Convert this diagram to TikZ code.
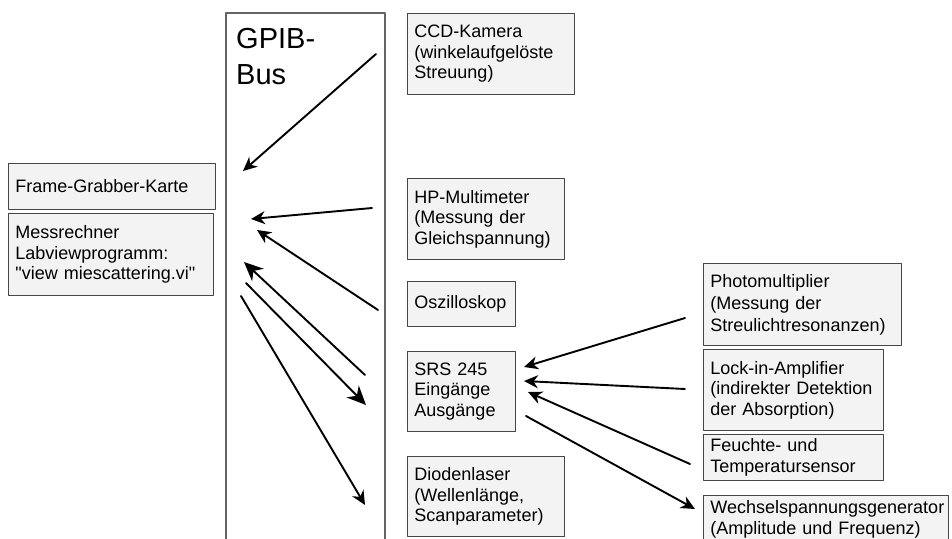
\documentclass[tikz,border=0pt]{standalone}
\usepackage{fontspec}
\setmainfont{Liberation Sans}
\usetikzlibrary{arrows.meta}
\definecolor{boxfill}{RGB}{243,243,243}
\definecolor{boxline}{RGB}{70,70,70}
\definecolor{busline}{RGB}{100,100,100}

\tikzset{
  geraet/.style 2 args={draw=boxline, line width=0.9pt, fill=boxfill, anchor=north west,
    align=left, inner xsep=7pt, inner ysep=0pt, text width=#1, minimum height=#2,
    font=\fontsize{18}{20.5}\selectfont},
  pfeil/.style={->, line width=1.9pt},
  grosspfeil/.style={-{Stealth[length=19pt,width=17pt,inset=6pt]}, line width=1.9pt}
}

\begin{document}
\begin{tikzpicture}[line cap=round,line join=round,>={Stealth[length=14pt,width=13pt,inset=4.5pt]},x=1pt,y=-1pt]
\useasboundingbox (0,0) rectangle (952,538);
% GPIB-Bus
\draw[busline, line width=1.3pt] (226,560) |- (385,13) -- (385,560);
\node [anchor=north west, align=left, inner sep=0pt, font=\fontsize{29}{36}\selectfont] (bus) at (236,28) {GPIB-\\Bus};

% Rechner links
\node [geraet={193pt}{46pt}] (fgk) at (8,163) {Frame-Grabber-Karte};
\node [geraet={191pt}{82pt}] (rechner) at (8,213) {Messrechner\\Labviewprogramm:\\\textquotedbl view miescattering.vi\textquotedbl};

% Geraete am Bus
\node [geraet={153pt}{81pt}] (ccd) at (407,13) {CCD-Kamera\\(winkelaufgelöste\\Streuung)};
\node [geraet={143pt}{81pt}] (hpmm) at (407,178) {HP-Multimeter\\(Messung der\\Gleichspannung)};
\node [geraet={94pt}{45pt}] (oszi) at (407,281) {Oszilloskop};
\node [geraet={94pt}{80pt}] (srs) at (407,351) {SRS 245\\Eingänge\\Ausgänge};
\node [geraet={143pt}{80pt}] (laser) at (407,456) {Diodenlaser\\(Wellenlänge,\\Scanparameter)};

% Geraete am SRS 245
\node [geraet={184pt}{82pt}, font=\fontsize{18}{22}\selectfont] (pmt) at (703,263) {Photomultiplier\\(Messung der\\Streulichtresonanzen)};
\node [geraet={166pt}{81pt}] (lockin) at (703,349) {Lock-in-Amplifier\\(indirekter Detektion\\der Absorption)};
\node [geraet={166pt}{46pt}] (sensor) at (703,434) {Feuchte- und\\Temperatursensor};
\node [geraet={231pt}{48pt}] (generator) at (703,495) {Wechselspannungsgenerator\\(Amplitude und Frequenz)};

% Pfeilenden
\coordinate (ccd-s) at (376,54);   \coordinate (ccd-e) at (243,171);
\coordinate (hpmm-s) at (372,208); \coordinate (hpmm-e) at (251,219);
\coordinate (oszi-s) at (378,310); \coordinate (oszi-e) at (257,230);
\coordinate (srs-s) at (365,375);  \coordinate (srs-e) at (244,262);
\coordinate (bus-s) at (246,283);  \coordinate (bus-e) at (366,405);
\coordinate (laser-s) at (241,296); \coordinate (laser-e) at (365,505);
\coordinate (pmt-s) at (685,318);  \coordinate (pmt-e) at (524,367);
\coordinate (lockin-s) at (685,389); \coordinate (lockin-e) at (524,381);
\coordinate (sensor-s) at (690,464); \coordinate (sensor-e) at (528,392);
\coordinate (gen-s) at (526,416);  \coordinate (gen-e) at (695,509);

\draw[pfeil] (ccd-s) -- (ccd-e);
\draw[pfeil] (hpmm-s) -- (hpmm-e);
\draw[pfeil] (oszi-s) -- (oszi-e);
\draw[grosspfeil] (srs-s) -- (srs-e);
\draw[grosspfeil] (bus-s) -- (bus-e);
\draw[pfeil] (laser-s) -- (laser-e);
\draw[pfeil] (pmt-s) -- (pmt-e);
\draw[pfeil] (lockin-s) -- (lockin-e);
\draw[pfeil] (sensor-s) -- (sensor-e);
\draw[pfeil] (gen-s) -- (gen-e);
\end{tikzpicture}
\end{document}
